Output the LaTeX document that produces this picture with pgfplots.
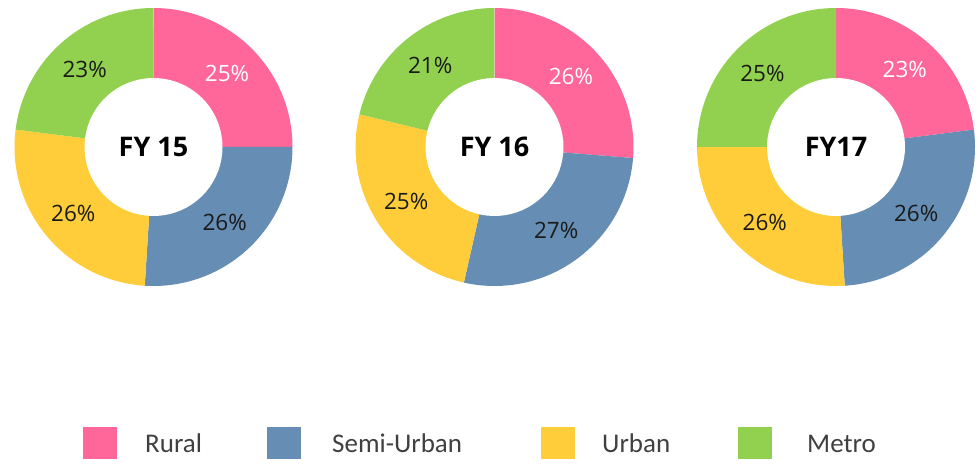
\documentclass[border=0pt]{standalone}
\usepackage{pgfplots}
\pgfplotsset{compat=1.18}
\usepackage{fontspec}
\setmainfont{Open Sans}
\newfontfamily\legfont{Carlito}
\definecolor{rural}{HTML}{FF6699}
\definecolor{semi}{HTML}{668DB3}
\definecolor{urban}{HTML}{FFCD3A}
\definecolor{metro}{HTML}{92D050}
\definecolor{txt}{HTML}{1A1A1A}
\begin{document}
\begin{tikzpicture}
\begin{axis}[
  x=1pt, y=1pt, xmin=0, xmax=979, ymin=0, ymax=469,
  hide axis, clip=false, scale only axis,
  every axis plot/.append style={samples=72, line width=0pt, draw=none},
]
% frame of the picture (invisible)
\addplot[draw=none, fill=none] coordinates {(0,0) (979,469)};
% ---------- data (percent) ----------
% FY15: Rural 25, Semi-Urban 26, Urban 26, Metro 23 (total 100)
% FY16: Rural 26, Semi-Urban 27, Urban 25, Metro 21 (total 99)
% FY17: Rural 23, Semi-Urban 26, Urban 26, Metro 25 (total 100)
% ===== FY15, centre (153.5,322) =====
\addplot[fill=rural, domain={90-360*25/100}:{90}] ({153.5+139*cos(x)},{322+139*sin(x)}) -- (axis cs:153.5,322) -- cycle;
\addplot[fill=semi, domain={90-360*51/100}:{90-360*25/100}] ({153.5+139*cos(x)},{322+139*sin(x)}) -- (axis cs:153.5,322) -- cycle;
\addplot[fill=urban, domain={90-360*77/100}:{90-360*51/100}] ({153.5+139*cos(x)},{322+139*sin(x)}) -- (axis cs:153.5,322) -- cycle;
\addplot[fill=metro, domain={90-360*100/100}:{90-360*77/100}] ({153.5+139*cos(x)},{322+139*sin(x)}) -- (axis cs:153.5,322) -- cycle;
\addplot[fill=white, domain=0:360] ({153.5+69*cos(x)},{322+69*sin(x)}) -- cycle;
% ===== FY16, centre (494.5,322) =====
\addplot[fill=rural, domain={90-360*26/99}:{90}] ({494.5+139*cos(x)},{322+139*sin(x)}) -- (axis cs:494.5,322) -- cycle;
\addplot[fill=semi, domain={90-360*53/99}:{90-360*26/99}] ({494.5+139*cos(x)},{322+139*sin(x)}) -- (axis cs:494.5,322) -- cycle;
\addplot[fill=urban, domain={90-360*78/99}:{90-360*53/99}] ({494.5+139*cos(x)},{322+139*sin(x)}) -- (axis cs:494.5,322) -- cycle;
\addplot[fill=metro, domain={90-360*99/99}:{90-360*78/99}] ({494.5+139*cos(x)},{322+139*sin(x)}) -- (axis cs:494.5,322) -- cycle;
\addplot[fill=white, domain=0:360] ({494.5+69*cos(x)},{322+69*sin(x)}) -- cycle;
% ===== FY17, centre (836,322) =====
\addplot[fill=rural, domain={90-360*23/100}:{90}] ({836+139*cos(x)},{322+139*sin(x)}) -- (axis cs:836,322) -- cycle;
\addplot[fill=semi, domain={90-360*49/100}:{90-360*23/100}] ({836+139*cos(x)},{322+139*sin(x)}) -- (axis cs:836,322) -- cycle;
\addplot[fill=urban, domain={90-360*75/100}:{90-360*49/100}] ({836+139*cos(x)},{322+139*sin(x)}) -- (axis cs:836,322) -- cycle;
\addplot[fill=metro, domain={90-360*100/100}:{90-360*75/100}] ({836+139*cos(x)},{322+139*sin(x)}) -- (axis cs:836,322) -- cycle;
\addplot[fill=white, domain=0:360] ({836+69*cos(x)},{322+69*sin(x)}) -- cycle;
% ---------- centre titles ----------
\node[font=\fontsize{27}{30}\selectfont\bfseries, text=black] at (axis cs:153.5,322) {FY 15};
\node[font=\fontsize{27}{30}\selectfont\bfseries, text=black] at (axis cs:494.5,322) {FY 16};
\node[font=\fontsize{27}{30}\selectfont\bfseries, text=black] at (axis cs:836,322) {FY17};
% ---------- percentage labels ----------
\tikzset{pl/.style={font=\fontsize{22.5}{26}\selectfont, text=txt}}
\node[pl, text=white] at (axis cs:{153.5+104*cos(90-360*12.5/100)},{322+104*sin(90-360*12.5/100)}) {25\%};
\node[pl] at (axis cs:{153.5+104*cos(90-360*38/100)},{322+104*sin(90-360*38/100)}) {26\%};
\node[pl] at (axis cs:{153.5+104*cos(90-360*64/100)},{322+104*sin(90-360*64/100)}) {26\%};
\node[pl] at (axis cs:{153.5+104*cos(90-360*88.5/100)},{322+104*sin(90-360*88.5/100)}) {23\%};
\node[pl, text=white] at (axis cs:{494.5+104*cos(90-360*13/99)},{322+104*sin(90-360*13/99)}) {26\%};
\node[pl] at (axis cs:{494.5+104*cos(90-360*39.5/99)},{322+104*sin(90-360*39.5/99)}) {27\%};
\node[pl] at (axis cs:{494.5+104*cos(90-360*65.5/99)},{322+104*sin(90-360*65.5/99)}) {25\%};
\node[pl] at (axis cs:{494.5+104*cos(90-360*88.5/99)},{322+104*sin(90-360*88.5/99)}) {21\%};
\node[pl, text=white] at (axis cs:{836+104*cos(90-360*11.5/100)},{322+104*sin(90-360*11.5/100)}) {23\%};
\node[pl] at (axis cs:{836+104*cos(90-360*36/100)},{322+104*sin(90-360*36/100)}) {26\%};
\node[pl] at (axis cs:{836+104*cos(90-360*62/100)},{322+104*sin(90-360*62/100)}) {26\%};
\node[pl] at (axis cs:{836+104*cos(90-360*87.5/100)},{322+104*sin(90-360*87.5/100)}) {25\%};
% ---------- legend ----------
\addplot[fill=rural] coordinates {(83,10) (117,10) (117,42) (83,42)} -- cycle;
\addplot[fill=semi] coordinates {(267,10) (301,10) (301,42) (267,42)} -- cycle;
\addplot[fill=urban] coordinates {(541,10) (575,10) (575,42) (541,42)} -- cycle;
\addplot[fill=metro] coordinates {(738,10) (772,10) (772,42) (738,42)} -- cycle;
\tikzset{ll/.style={font=\legfont\fontsize{27}{30}\selectfont, text=black!75, anchor=base west, inner sep=0pt}}
\node[ll] at (axis cs:145,17) {Rural};
\node[ll] at (axis cs:332,17) {Semi-Urban};
\node[ll] at (axis cs:602,17) {Urban};
\node[ll] at (axis cs:807,17) {Metro};
\end{axis}
\end{tikzpicture}
\end{document}
